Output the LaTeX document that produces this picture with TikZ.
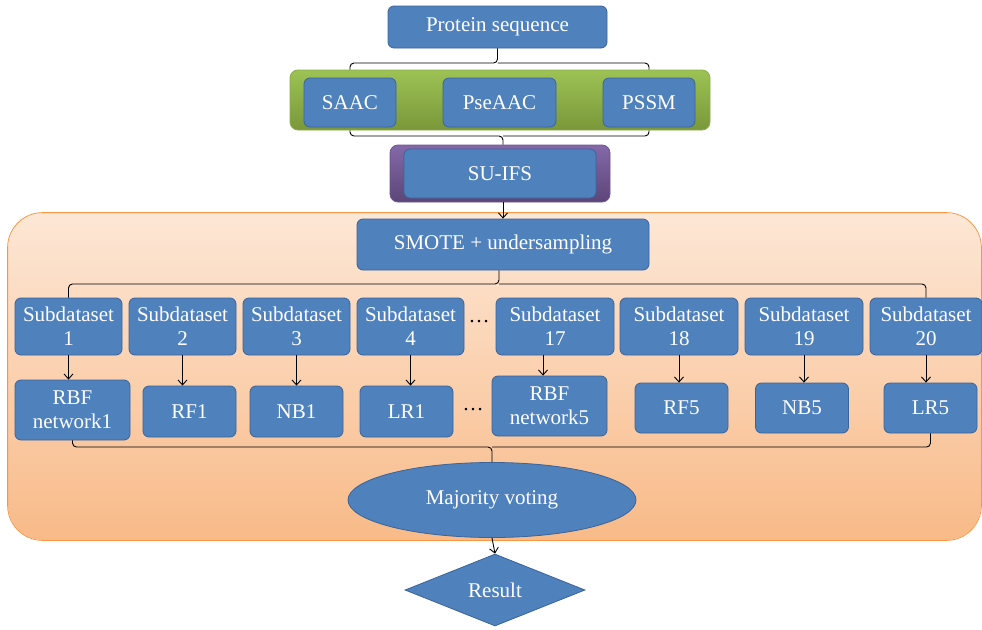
\documentclass[tikz,border=0pt]{standalone}
\usepackage{fontspec}
\setmainfont{Liberation Serif}
\usetikzlibrary{shapes.geometric,arrows.meta}
\definecolor{boxblue}{HTML}{4F81BD}
\definecolor{boxedge}{HTML}{3A639A}
\definecolor{orgtop}{HTML}{FDE7D6}
\definecolor{orgbot}{HTML}{F8BA88}
\definecolor{orgedge}{HTML}{F79646}
\definecolor{grntop}{HTML}{9DC254}
\definecolor{grnbot}{HTML}{7A973A}
\definecolor{grnedge}{HTML}{8AAE48}
\definecolor{purtop}{HTML}{8468A8}
\definecolor{purbot}{HTML}{5C4678}
\definecolor{puredge}{HTML}{6E5592}
\tikzset{
  blk/.style={draw=boxedge, fill=boxblue, line width=0.8pt, rounded corners=6pt,
    text=white, align=center, inner sep=0pt, font=\fontsize{21}{24}\selectfont},
  band/.style={rounded corners=8pt, line width=0.8pt, inner sep=0pt},
  arr/.style={-{Straight Barb[length=5pt,width=9pt]}, line width=0.9pt},
  brk/.style={rounded corners=4pt, line width=0.9pt},
}

\begin{document}
\begin{tikzpicture}[x=1pt,y=-1pt]
\useasboundingbox (0,0) rectangle (982,629);
% bands
\node[band, rounded corners=35pt, top color=orgtop, bottom color=orgbot,
  minimum width=973, minimum height=327] (bal) at (494.5,376.5) {};
\draw[orgedge, line width=0.8pt, rounded corners=35pt] (bal.south west) rectangle (bal.north east);
\node[band, top color=grntop, bottom color=grnbot, draw=grnedge,
  minimum width=420, minimum height=60] (feat) at (500,100) {};
\node[band, top color=purtop, bottom color=purbot, draw=puredge,
  minimum width=220, minimum height=57] (sel) at (500,173.5) {};
% feature extraction
\node[blk, minimum width=219, minimum height=42] (prot) at (497.5,27) {Protein sequence};
\node[blk, minimum width=92, minimum height=49] (saac) at (350,102.5) {SAAC};
\node[blk, minimum width=113, minimum height=49] (pseaac) at (499.5,102.5) {PseAAC};
\node[blk, minimum width=92, minimum height=49] (pssm) at (649,102.5) {PSSM};
\coordinate (j1) at (497.5,63);
\draw[brk] (feat.north -| saac) |- (j1) -- (prot.south);
\draw[brk] (feat.north -| pssm) |- (j1);
\coordinate (j2) at (503,136);
\draw[brk] (feat.south -| saac) |- (j2) -- (sel.north -| j2);
\draw[brk] (feat.south -| pssm) |- (j2);
% selection
\node[blk, minimum width=192, minimum height=49] (suifs) at (500,173.5) {SU-IFS};
\node[blk, minimum width=292, minimum height=51] (smote) at (503,244.5) {SMOTE + undersampling};
\draw[arr] (sel.south -| smote) -- (smote.north);
% subdatasets
\node[blk, minimum width=107, minimum height=57] (sub1) at (68.5,326.5) {Subdataset\\1};
\node[blk, minimum width=107, minimum height=57] (sub2) at (182.5,326.5) {Subdataset\\2};
\node[blk, minimum width=107, minimum height=57] (sub3) at (296.5,326.5) {Subdataset\\3};
\node[blk, minimum width=107, minimum height=57] (sub4) at (410.5,326.5) {Subdataset\\4};
\node (dotsA) at (479,322) {\fontsize{21}{24}\selectfont\dots};
\node[blk, minimum width=118, minimum height=57] (sub17) at (555,326.5) {Subdataset\\17};
\node[blk, minimum width=118, minimum height=57] (sub18) at (679,326.5) {Subdataset\\18};
\node[blk, minimum width=118, minimum height=57] (sub19) at (804,326.5) {Subdataset\\19};
\node[blk, minimum width=112, minimum height=57] (sub20) at (926,326.5) {Subdataset\\20};
\coordinate (j3) at (499,284);
\draw[brk] (sub1.north) |- (j3) -- (smote.south -| j3);
\draw[brk] (sub20.north) |- (j3);
% classifiers
\node[blk, minimum width=115, minimum height=60] (rbf1) at (72.5,410) {RBF\\network1};
\node[blk, minimum width=93, minimum height=51] (rf1) at (189.5,411.5) {RF1};
\node[blk, minimum width=93, minimum height=51] (nb1) at (296.5,411.5) {NB1};
\node[blk, minimum width=93, minimum height=51] (lr1) at (406.5,411.5) {LR1};
\node (dotsB) at (473,410) {\fontsize{21}{24}\selectfont\dots};
\node[blk, minimum width=115, minimum height=60] (rbf5) at (549.5,406) {RBF\\network5};
\node[blk, minimum width=93, minimum height=50] (rf5) at (681.5,408) {RF5};
\node[blk, minimum width=93, minimum height=50] (nb5) at (802,408) {NB5};
\node[blk, minimum width=93, minimum height=50] (lr5) at (930.5,408) {LR5};
\draw[arr] (sub1.south) -- (sub1.south |- rbf1.north);
\draw[arr] (sub2.south) -- (sub2.south |- rf1.north);
\draw[arr] (sub3.south) -- (sub3.south |- nb1.north);
\draw[arr] (sub4.south) -- (sub4.south |- lr1.north);
\draw[arr] ([xshift=-12]sub17.south) -- ([xshift=-12]sub17.south |- rbf5.north);
\draw[arr] (sub18.south) -- (sub18.south |- rf5.north);
\draw[arr] (sub19.south) -- (sub19.south |- nb5.north);
\draw[arr] (sub20.south) -- (sub20.south |- lr5.north);
% voting
\node[blk, ellipse, rounded corners=0pt, minimum width=288, minimum height=75] (vote) at (492,500) {Majority voting};
\node[blk, diamond, rounded corners=0pt, shape aspect=2.5, minimum width=180, minimum height=72] (res) at (495,590) {Result};
\coordinate (j4) at (492,447);
\draw[brk] (rbf1.south) |- (j4) -- (vote.north);
\draw[brk] (lr5.south) |- (j4);
\draw[arr] (vote.south) -- (res.north);
\end{tikzpicture}
\end{document}
